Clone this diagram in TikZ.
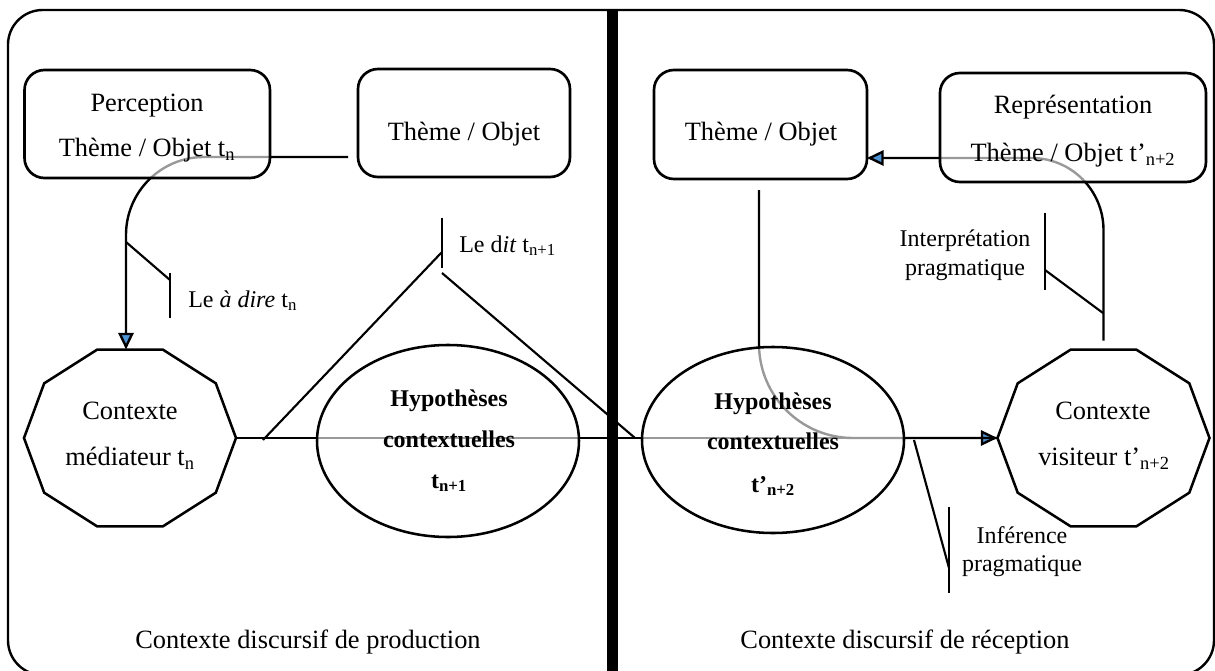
\documentclass[tikz,border=0pt]{standalone}
\usepackage{fontspec}
\setmainfont{Liberation Serif}
\usetikzlibrary{arrows.meta,calc,shapes.geometric}
\pgfdeclarelayer{bg}
\pgfsetlayers{bg,main}
\definecolor{arrowblue}{RGB}{79,148,212}
\begin{document}
\begin{tikzpicture}[x=0.75pt,y=-0.75pt,
  mainfont/.style={font=\fontsize{19.8}{24}\selectfont},
  smallfont/.style={font=\fontsize{18}{22}\selectfont},
  boldfont/.style={font=\fontsize{18}{22}\selectfont\bfseries},
  txt/.style={inner sep=0, anchor=base},
  themebox/.style={draw, line width=2pt, rounded corners=15pt, fill=white, fill opacity=0.6, text opacity=1, inner sep=0, outer sep=0},
  ovalbox/.style={ellipse, draw, line width=1.9pt, fill=white, fill opacity=0.6, text opacity=1, inner sep=0, outer sep=0, minimum width=196.5pt},
  decabox/.style={ellipse, draw=none, inner sep=0, outer sep=0, minimum width=159pt, minimum height=132.75pt},
  decaline/.style={line width=1.9pt, line join=miter},
  conn/.style={line width=1.8pt},
  tipped/.style={-{Triangle[length=12.5pt,width=11.5pt,fill=arrowblue]}},
  callout/.style={line width=1.6pt},
  outerframe/.style={line width=1.8pt, rounded corners=26pt},
  divider/.style={line width=8.25pt},
]
\useasboundingbox (0,0) rectangle (1215,671);
\clip (0,0) rectangle (1215,671);

% frame
\draw[outerframe] (8,10) rectangle (1214,675);

% shapes
\node[themebox, minimum width=184.1pt, minimum height=81pt] (P) at (147.25,124) {};
\node[themebox, minimum width=159pt, minimum height=81pt] (T1) at (464,123) {};
\node[themebox, minimum width=159.75pt, minimum height=81.75pt] (T2) at (760.5,124.5) {};
\node[themebox, minimum width=199.5pt, minimum height=81.75pt] (R) at (1073,127.5) {};
\node[decabox] (ML) at (130,438) {};
\node[decabox] (DR) at (1103.5,438) {};
\node[ovalbox, minimum height=144pt] (EL) at (448,441) {};
\node[ovalbox, minimum height=139.5pt] (ER) at (773,440) {};

\foreach \n in {ML,DR}{
  \draw[decaline] ($(\n.center)+(106,0)$) -- ($(\n.center)+(85.8,54.7)$)
    -- ($(\n.center)+(32.8,88.4)$) -- ($(\n.center)+(-32.8,88.4)$)
    -- ($(\n.center)+(-85.8,54.7)$) -- ($(\n.center)+(-106,0)$)
    -- ($(\n.center)+(-85.8,-54.7)$) -- ($(\n.center)+(-32.8,-88.4)$)
    -- ($(\n.center)+(32.8,-88.4)$) -- ($(\n.center)+(85.8,-54.7)$) -- cycle;
}

\draw[divider] (612.5,10) -- (612.5,671);

% texts
\node[txt, mainfont] (Pt1) at (147,111) {Perception};
\node[txt, mainfont] (Pt2) at (147,156) {Thème / Objet t\textsubscript{n}};
\node[txt, mainfont] (T1t) at (464,140) {Thème / Objet};
\node[txt, mainfont] (T2t) at (761,140) {Thème / Objet};
\node[txt, mainfont] (Rt1) at (1073,113) {Représentation};
\node[txt, mainfont] (Rt2) at (1073,161) {Thème / Objet t’\textsubscript{n+2}};
\node[txt, mainfont] (MLt1) at (130,419) {Contexte};
\node[txt, mainfont] (MLt2) at (130,465) {médiateur t\textsubscript{n}};
\node[txt, boldfont] (ELt1) at (449,406) {Hypothèses};
\node[txt, boldfont] (ELt2) at (449,447) {contextuelles};
\node[txt, boldfont] (ELt3) at (449,488) {t\textsubscript{n+1}};
\node[txt, boldfont] (ERt1) at (773,409) {Hypothèses};
\node[txt, boldfont] (ERt2) at (773,449) {contextuelles};
\node[txt, boldfont] (ERt3) at (773,492) {t’\textsubscript{n+2}};
\node[txt, mainfont] (DRt1) at (1103,419) {Contexte};
\node[txt, mainfont] (DRt2) at (1104,465) {visiteur t’\textsubscript{n+2}};
\node[txt, smallfont, anchor=base west] (ad) at (188,307) {Le \textit{à dire} t\textsubscript{n}};
\node[txt, smallfont, anchor=base west] (dit) at (459,252) {Le d\textit{it} t\textsubscript{n+1}};
\node[txt, smallfont] (ip1) at (965,246) {Interprétation};
\node[txt, smallfont] (ip2) at (965,275) {pragmatique};
\node[txt, smallfont] (if1) at (1022,543) {Inférence};
\node[txt, smallfont] (if2) at (1022,571) {pragmatique};
\node[txt, mainfont] (bot1) at (308,648) {Contexte discursif de production};
\node[txt, mainfont] (bot2) at (905,648) {Contexte discursif de réception};

% callout coordinates
\coordinate (adA) at (126,242);
\coordinate (adB) at (170,280);
\coordinate (adT) at (170,273);
\coordinate (adU) at (170,318);
\coordinate (ditT) at (442,218);
\coordinate (ditU) at (442,268);
\coordinate (ditL) at (442,252);
\coordinate (ditLe) at (263,440);
\coordinate (ditR) at (442,273);
\coordinate (ditRe) at (635,438);
\coordinate (ipT) at (1045,213);
\coordinate (ipU) at (1045,290);
\coordinate (ipB) at (1045,270);
\coordinate (ipA) at (1103,313);
\coordinate (ifA) at (914,440);
\coordinate (ifB) at (949,568);
\coordinate (ifT) at (949,507);
\coordinate (ifU) at (949,593);

\draw[callout] (adA) -- (adB);
\draw[callout] (adT) -- (adU);
\draw[callout] (ditT) -- (ditU);
\draw[callout] (ditL) -- (ditLe);
\draw[callout] (ditR) -- (ditRe);
\draw[callout] (ipT) -- (ipU);
\draw[callout] (ipB) -- (ipA);
\draw[callout] (ifA) -- (ifB);
\draw[callout] (ifT) -- (ifU);

% connectors (behind the translucent shapes)
\begin{pgfonlayer}{bg}
\draw[conn, tipped, rounded corners=58.5pt] ($(T1.south west)+(-10,-20)$) -| ($(ML.north)+(-4,0)$);
\draw[conn, tipped, rounded corners=54pt] ($(DR.north)+(0,-9)$) |- ($(T2.south east)+(0,-21)$);
\draw[conn, tipped] (ML.east) -- (DR.west);
\draw[conn, rounded corners=70.5pt] ($(T2.south)+(-1.5,11)$) |- (DR.west);
\end{pgfonlayer}
\end{tikzpicture}
\end{document}
